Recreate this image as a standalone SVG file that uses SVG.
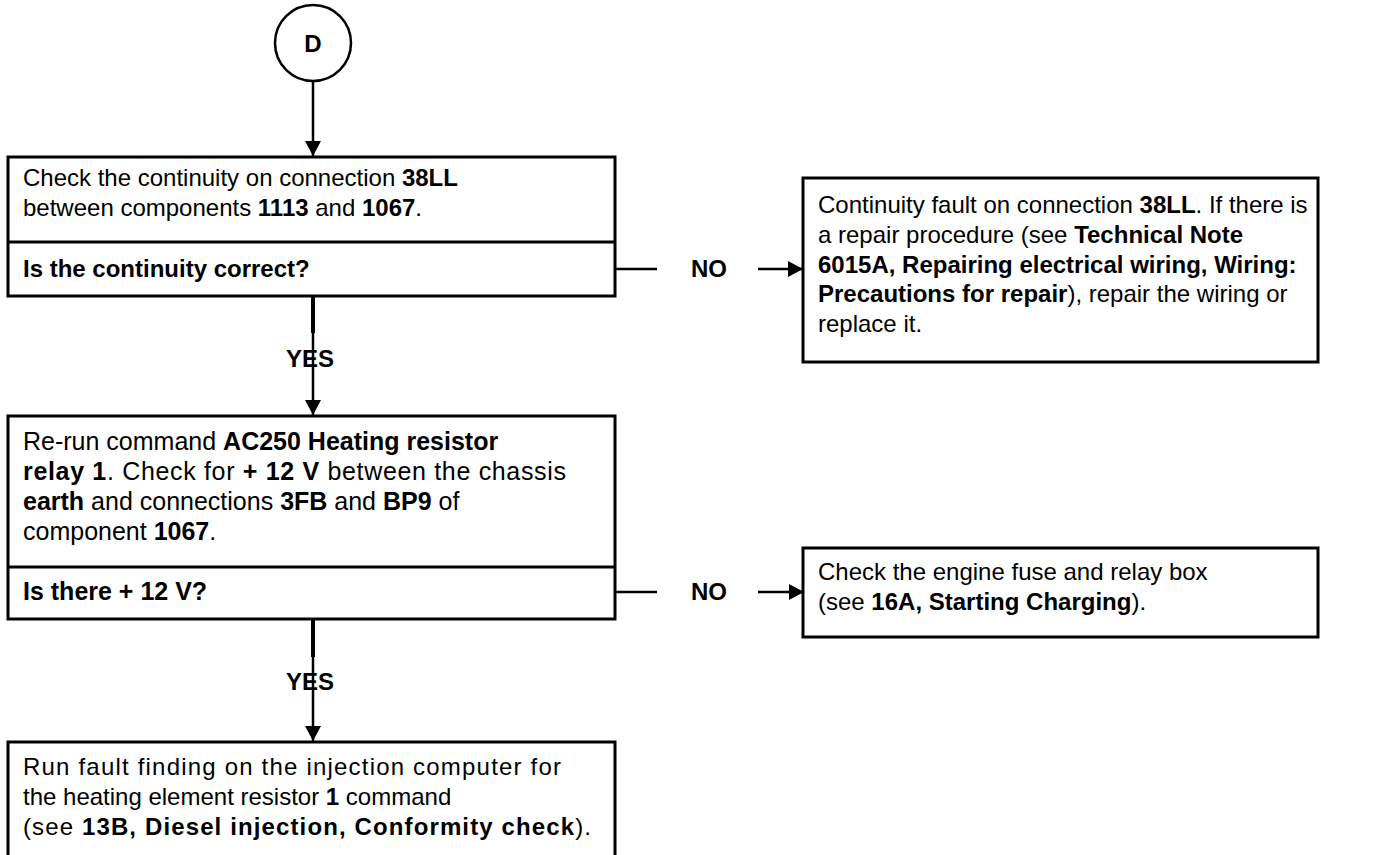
<svg xmlns="http://www.w3.org/2000/svg" width="1375" height="855" viewBox="0 0 1375 855">
<style>
.box{fill:#fff;stroke:#000;stroke-width:3}
.div{stroke:#000;stroke-width:3}
.t{font-family:"Liberation Sans",Arial,sans-serif;font-size:24px;fill:#000}
.t25{font-size:25px}
.b{font-weight:bold}
.ln{stroke:#000;stroke-width:2.5;fill:none}
.thick{stroke:#000;stroke-width:4;fill:none}
</style>
<defs>
<marker id="ah" markerUnits="userSpaceOnUse" markerWidth="16" markerHeight="16" refX="15" refY="8" orient="auto">
<path d="M0,0 L15,8 L0,16 z" fill="#000"/>
</marker>
</defs>
<rect width="1375" height="855" fill="#fff"/>

<g id="connectors">
<line class="ln" x1="313" y1="82" x2="313" y2="156" marker-end="url(#ah)"/>
<line class="ln" x1="615" y1="269" x2="657" y2="269"/>
<text class="t b" x="709" y="277" text-anchor="middle">NO</text>
<line class="ln" x1="758" y1="269" x2="803" y2="269" marker-end="url(#ah)"/>
<line class="thick" x1="313" y1="296" x2="313" y2="333"/>
<text class="t b" x="310" y="367" text-anchor="middle">YES</text>
<line class="ln" x1="313" y1="333" x2="313" y2="415" marker-end="url(#ah)"/>
<line class="ln" x1="615" y1="592" x2="657" y2="592"/>
<text class="t b" x="709" y="600" text-anchor="middle">NO</text>
<line class="ln" x1="758" y1="592" x2="804" y2="592" marker-end="url(#ah)"/>
<line class="thick" x1="313" y1="619" x2="313" y2="657"/>
<text class="t b" x="310" y="690" text-anchor="middle">YES</text>
<line class="ln" x1="313" y1="657" x2="313" y2="741" marker-end="url(#ah)"/>
</g>

<g id="start">
<circle cx="313" cy="43" r="38" fill="#fff" stroke="#000" stroke-width="2.5"/>
<text class="t b" x="313" y="52" text-anchor="middle">D</text>
</g>

<g id="check-continuity">
<rect class="box" x="8" y="157" width="607" height="139"/>
<line class="div" x1="8" y1="242" x2="615" y2="242"/>
<text class="t" x="23" y="186">Check the continuity on connection <tspan class="b">38LL</tspan></text>
<text class="t" x="23" y="216">between components <tspan class="b">1113</tspan> and <tspan class="b">1067</tspan>.</text>
<text class="t b" x="23" y="277">Is the continuity correct?</text>
</g>

<g id="continuity-fault">
<rect class="box" x="803" y="178" width="515" height="184"/>
<text class="t" x="818" y="213">Continuity fault on connection <tspan class="b">38LL</tspan>. If there is</text>
<text class="t" x="818" y="243">a repair procedure (see <tspan class="b">Technical Note</tspan></text>
<text class="t b" x="818" y="273">6015A, Repairing electrical wiring, Wiring:</text>
<text class="t" x="818" y="302"><tspan class="b">Precautions for repair</tspan>), repair the wiring or</text>
<text class="t" x="818" y="332">replace it.</text>
</g>

<g id="rerun-command">
<rect class="box" x="8" y="416" width="607" height="203"/>
<line class="div" x1="8" y1="567" x2="615" y2="567"/>
<text class="t t25" x="23" y="450">Re-run command <tspan class="b">AC250 Heating resistor</tspan></text>
<text class="t t25" x="23" y="480" textLength="543" lengthAdjust="spacing"><tspan class="b">relay 1</tspan>. Check for <tspan class="b">+ 12 V</tspan> between the chassis</text>
<text class="t t25" x="23" y="510"><tspan class="b">earth</tspan> and connections <tspan class="b">3FB</tspan> and <tspan class="b">BP9</tspan> of</text>
<text class="t t25" x="23" y="540">component <tspan class="b">1067</tspan>.</text>
<text class="t t25 b" x="23" y="600">Is there + 12 V?</text>
</g>

<g id="check-fuse-box">
<rect class="box" x="803" y="548" width="515" height="89"/>
<text class="t" x="818" y="580">Check the engine fuse and relay box</text>
<text class="t" x="818" y="610">(see <tspan class="b">16A, Starting Charging</tspan>).</text>
</g>

<g id="run-fault-finding">
<rect class="box" x="8" y="742" width="607" height="130"/>
<text class="t" x="23" y="775" textLength="538" lengthAdjust="spacing">Run fault finding on the injection computer for</text>
<text class="t" x="23" y="805">the heating element resistor <tspan class="b">1</tspan> command</text>
<text class="t" x="23" y="835" textLength="568" lengthAdjust="spacing">(see <tspan class="b">13B, Diesel injection, Conformity check</tspan>).</text>
</g>
</svg>
